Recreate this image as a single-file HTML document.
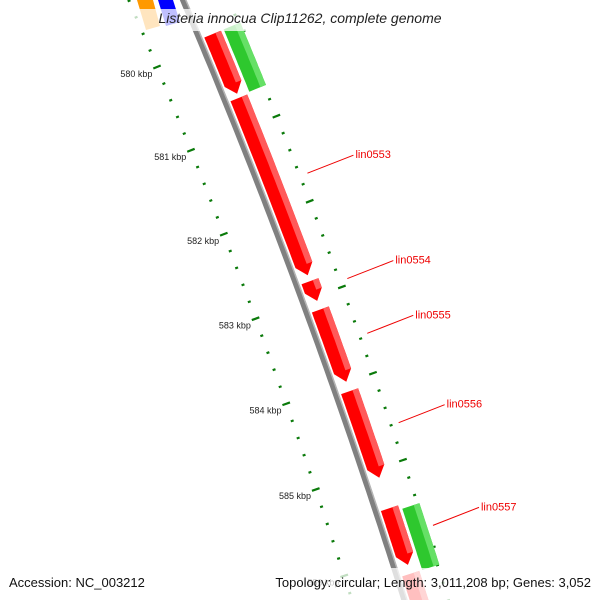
<!DOCTYPE html>
<html><head><meta charset="utf-8"><style>
body{margin:0;background:#fff}
svg{display:block;font-family:"Liberation Sans","DejaVu Sans",sans-serif}
</style></head><body>
<svg id="c" width="600" height="600" viewBox="0 0 600 600">
<rect x="0" y="0" width="600" height="600" fill="#fff"/>
<g id="g"></g>
<rect x="0" y="9" width="600" height="22" fill="#fff" opacity="0.75"/>
<rect x="0" y="568" width="600" height="32" fill="#fff" opacity="0.75"/>
<text x="300" y="23" text-anchor="middle" font-size="14" font-style="italic" fill="#222">Listeria innocua Clip11262, complete genome</text>
<text x="9" y="587" font-size="13" fill="#111">Accession: NC_003212</text>
<text x="591" y="587" text-anchor="end" font-size="13" fill="#111">Topology: circular; Length: 3,011,208 bp; Genes: 3,052</text>
</svg>
<script>
const majorTicks=[580,581,582,583,584,585,586];
const minorStep=0.2;
const geneNames=["lin0552","lin0553","lin0554","lin0555","lin0556","lin0557","lin0558"];
const geneStart=[579.9,580.66,582.82,583.15,584.1,585.45,586.2];
const geneEnd=[580.61,582.75,583.05,583.99,585.1,586.1,587.2];
const fwdStart=[579.9,585.5];
const fwdEnd=[580.64,586.2];
const labelled=["lin0553","lin0554","lin0555","lin0556","lin0557"];
const NS="http://www.w3.org/2000/svg";
const G=document.getElementById('g');
function base(kbp){const k=kbp-580;return [157+34.5*k-0.55*k*k,67+83*k+0.3*k*k];}
function norm(kbp){const k=kbp-580;const dx=34.5-1.1*k,dy=83+0.6*k;const l=Math.hypot(dx,dy);return [dy/l,-dx/l];}
function P(kbp,off){const b=base(kbp),n=norm(kbp);return [b[0]+n[0]*off,b[1]+n[1]*off];}
function el(t,a){const e=document.createElementNS(NS,t);for(const k in a)e.setAttribute(k,a[k]);G.appendChild(e);return e;}
function poly(pts){return pts.map(p=>p[0].toFixed(1)+','+p[1].toFixed(1)).join(' ');}
// faded top fragments
let f=el('polygon',{points:'137,0 153,0 160,26 146,30',fill:'#f90'});
f=el('polygon',{points:'158,0 173,0 180,22 166,26',fill:'#00f'});
// backbone
let bb=[],bb2=[];for(let v=579.0;v<=587.5;v+=0.1){bb.push(P(v,50));bb2.push(P(v,52.5));}
let e=el('polyline',{points:poly(bb),fill:'none',stroke:'#808080',"stroke-width":6});


e=el('polyline',{points:poly(bb2),fill:'none',stroke:'#b5b5b5',"stroke-width":1.5});


// ticks
for(let v=579.2;v<=587.01;v+=minorStep){
  const isMaj=Math.abs(v-Math.round(v))<0.01;
  for(const off of [0,92]){
    const h=isMaj?4:1.5;
    const a=P(v,off-h),b=P(v,off+h);
    const t=el('line',{x1:a[0],y1:a[1],x2:b[0],y2:b[1],stroke:'#0a7a0a',"stroke-width":2.2});
    
    
  }
}
majorTicks.forEach(v=>{const p=P(v,-5);
  const t=el('text',{x:p[0],y:p[1]+8,"text-anchor":"end","font-size":9,fill:'#222'});
  t.textContent=v+' kbp';
  
  });
function gene(s,en,c,cl,cd,name,arrowEnd){
  const w=9,ah=0.12;const L=[],R=[];
  const tipE=arrowEnd?en-ah:en;
  const st=Math.max(0.02,(tipE-s)/20);
  for(let v=s;v<=tipE+1e-6;v+=st){L.push(P(v,c-w));R.push(P(v,c+w));}
  L.push(P(tipE,c-w));R.push(P(tipE,c+w));
  const shape=L.concat(arrowEnd?[P(en,c)]:[],R.reverse());
  let g=el('polygon',{points:poly(shape),fill:cl});
  
  
  const S=[],S2=[];
  for(let v=s;v<=tipE+1e-6;v+=st){S.push(P(v,c+3));S2.push(P(v,c+w));}
  S.push(P(tipE,c+3));S2.push(P(tipE,c+w));
  g=el('polygon',{points:poly(S.concat(S2.reverse())),fill:cd});
  
  
}
geneNames.forEach((n,i)=>gene(geneStart[i],geneEnd[i],64,'#f00','#ff5a5a',n,true));
fwdStart.forEach((s,i)=>gene(s,fwdEnd[i],85,'#2ec82e','#66e066','fwd-'+i,false));
// labels
labelled.forEach(n=>{const i=geneNames.indexOf(n);const m=(geneStart[i]+geneEnd[i])/2;
  const a=P(m,100),b=[a[0]+46,a[1]-18];
  let l=el('line',{x1:a[0],y1:a[1],x2:b[0],y2:b[1],stroke:'#e00',"stroke-width":1});
  
  
  let t=el('text',{x:b[0]+2,y:b[1]+3,"font-size":11,fill:'#e00'});t.textContent=n;
  
  });
</script>
</body></html>
